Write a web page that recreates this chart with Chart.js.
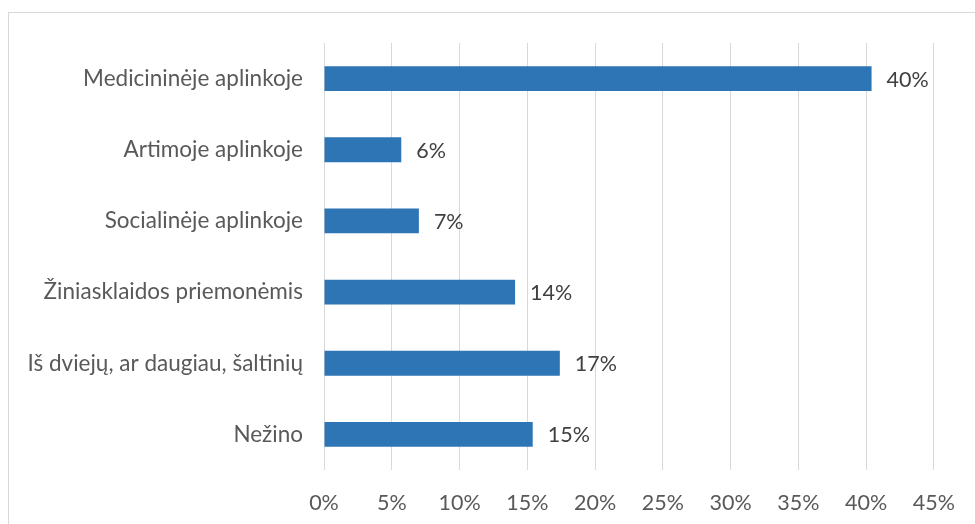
<!DOCTYPE html>
<html>
<head>
<meta charset="utf-8">
<script src="https://cdn.jsdelivr.net/npm/chart.js@4/dist/chart.umd.min.js"></script>
<style>
  html, body { margin: 0; padding: 0; background: #ffffff; }
  #wrap { width: 975px; height: 524px; }
</style>
</head>
<body>
<div id="wrap"><canvas id="c" width="975" height="524"></canvas></div>
<script>
// Information sources (category labels, top to bottom)
const categories = [
  'Medicininėje aplinkoje',
  'Artimoje aplinkoje',
  'Socialinėje aplinkoje',
  'Žiniasklaidos priemonėmis',
  'Iš dviejų, ar daugiau, šaltinių',
  'Nežino'
];
// Share of respondents, percent
const shares = [40.4, 5.7, 7.0, 14.1, 17.4, 15.4];
// Value axis ticks, percent
const tickValues = [0, 5, 10, 15, 20, 25, 30, 35, 40, 45];

const FONT = 'Lato, "Open Sans", sans-serif';
const BAR_COLOR = '#2E75B6';

// Outer frame of the chart
const framePlugin = {
  id: 'frame',
  beforeDraw(chart) {
    const ctx = chart.ctx;
    ctx.save();
    ctx.fillStyle = '#ffffff';
    ctx.fillRect(0, 0, chart.width, chart.height);
    ctx.strokeStyle = '#d9d9d9';
    ctx.lineWidth = 1;
    ctx.strokeRect(8.5, 12.5, 1200, 800);
    ctx.restore();
  }
};

// Value labels at the end of each bar
const valueLabels = {
  id: 'valueLabels',
  afterDatasetsDraw(chart) {
    const ctx = chart.ctx;
    const meta = chart.getDatasetMeta(0);
    const data = chart.data.datasets[0].data;
    ctx.save();
    ctx.font = '21.5px ' + FONT;
    ctx.fillStyle = '#404040';
    ctx.textAlign = 'left';
    ctx.textBaseline = 'middle';
    meta.data.forEach((bar, i) => {
      ctx.fillText(Math.round(data[i]) + '%', bar.x + 15, bar.y + 1);
    });
    ctx.restore();
  }
};

new Chart(document.getElementById('c'), {
  type: 'bar',
  data: {
    labels: categories,
    datasets: [{
      data: shares,
      backgroundColor: BAR_COLOR,
      borderWidth: 0,
      barPercentage: 0.7,
      categoryPercentage: 0.5
    }]
  },
  options: {
    indexAxis: 'y',
    responsive: false,
    animation: false,
    layout: { padding: { left: 0, right: 36, top: 43, bottom: 0 } },
    plugins: {
      legend: { display: false },
      tooltip: { enabled: false }
    },
    scales: {
      x: {
        min: 0,
        max: 45,
        afterBuildTicks(axis) {
          axis.ticks = tickValues.map(v => ({ value: v }));
        },
        afterFit(axis) { axis.height = 54; },
        grid: { color: '#d9d9d9', lineWidth: 1, drawTicks: false },
        border: { display: false },
        ticks: {
          padding: 20,
          color: '#595959',
          font: { family: FONT, size: 21.5 },
          callback: v => v + '%'
        }
      },
      y: {
        afterFit(axis) { axis.width = 324; },
        grid: { display: false, drawTicks: false },
        border: { display: false },
        ticks: {
          padding: 21,
          color: '#595959',
          font: { family: FONT, size: 22.5 }
        }
      }
    }
  },
  plugins: [framePlugin, valueLabels]
});
</script>
</body>
</html>
